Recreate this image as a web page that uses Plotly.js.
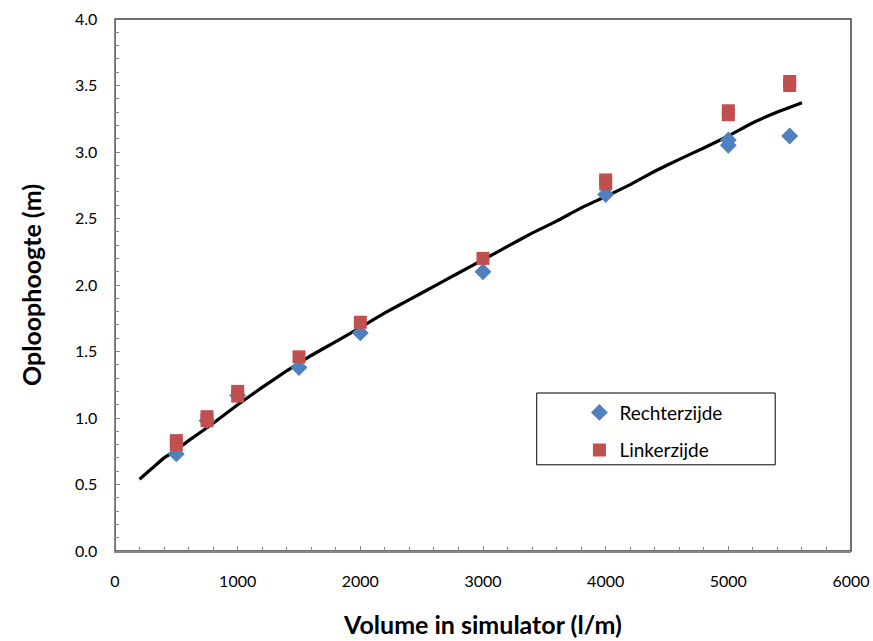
<!DOCTYPE html>
<html>
<head>
<meta charset="utf-8">
<script src="https://cdn.plot.ly/plotly-3.0.1.min.js"></script>
<style>html,body{margin:0;padding:0;background:#fff;}#chart{width:873px;height:641px;}</style>
</head>
<body>
<div id="chart"></div>
<script>
// Rechterzijde (right side) measurements
const rechtsX = [500, 750, 1000, 1500, 2000, 3000, 4000, 5000, 5000, 5500];
const rechtsY = [0.73, 0.98, 1.17, 1.38, 1.64, 2.10, 2.68, 3.09, 3.05, 3.12];
// Linkerzijde (left side) measurements
const linksX = [500, 500, 750, 750, 1000, 1000, 1500, 2000, 3000, 4000, 4000, 5000, 5000, 5500, 5500];
const linksY = [0.83, 0.80, 1.01, 0.98, 1.20, 1.165, 1.46, 1.72, 2.20, 2.79, 2.76, 3.31, 3.28, 3.53, 3.50];
// Fitted curve
const curveX = [200, 300, 400, 500, 600, 800, 1000, 1200, 1400, 1600, 1800, 2000, 2200, 2400, 2600, 2800, 3000, 3200, 3400, 3600, 3800, 4000, 4200, 4400, 4600, 4800, 5000, 5200, 5400, 5600];
const curveY = [0.54, 0.62, 0.70, 0.76, 0.83, 0.96, 1.10, 1.23, 1.355, 1.47, 1.575, 1.68, 1.79, 1.89, 1.99, 2.09, 2.19, 2.29, 2.39, 2.48, 2.58, 2.665, 2.755, 2.855, 2.945, 3.03, 3.12, 3.22, 3.30, 3.37];

const traces = [
  {x: curveX, y: curveY, type: 'scatter', mode: 'lines', line: {color: '#000000', width: 3.2, shape: 'spline', smoothing: 0.3}, showlegend: false, hoverinfo: 'skip'},
  {x: rechtsX, y: rechtsY, type: 'scatter', mode: 'markers', name: 'Rechterzijde', legendgroup: 'a',
   marker: {symbol: 'diamond', size: 13, color: '#4F81BD'}},
  {x: linksX, y: linksY, type: 'scatter', mode: 'markers', name: 'Linkerzijde', legendgroup: 'b',
   marker: {symbol: 'square', size: 13, color: '#C0504D'}}
];

const font = 'Lato, "Open Sans", "Liberation Sans", sans-serif';
const layout = {
  width: 873, height: 641,
  margin: {l: 115, r: 22, t: 19, b: 90},
  paper_bgcolor: '#ffffff', plot_bgcolor: '#ffffff',
  font: {family: font, color: '#000000'},
  xaxis: {
    range: [0, 6000], dtick: 1000, tick0: 0, tickformat: 'd',
    showgrid: false, zeroline: false,
    showline: true, linecolor: '#868686', linewidth: 1.5,
    ticks: 'inside', ticklen: 5, tickcolor: '#868686', tickwidth: 1,
    minor: {dtick: 200, ticks: 'inside', ticklen: 4, tickcolor: '#868686', showgrid: false},
    tickfont: {size: 16, family: font},
    ticklabelstandoff: 15,
    title: {text: 'Volume in simulator (l/m)', font: {size: 25, family: font, weight: 'bold'}, standoff: 28}
  },
  yaxis: {
    range: [0, 4], dtick: 0.5, tick0: 0, tickformat: '.1f',
    showgrid: false, zeroline: false,
    showline: true, linecolor: '#868686', linewidth: 1.5,
    ticks: 'inside', ticklen: 5, tickcolor: '#868686', tickwidth: 1,
    minor: {dtick: 0.1, ticks: 'inside', ticklen: 4, tickcolor: '#868686', showgrid: false},
    tickfont: {size: 16, family: font},
    ticklabelstandoff: 13,
    title: {text: 'Oploophoogte (m)', font: {size: 25, family: font, weight: 'bold'}, standoff: 26}
  },
  shapes: [
    {type: 'rect', xref: 'paper', yref: 'paper', x0: 0, x1: 1, y0: 0, y1: 1, line: {color: '#404040', width: 1.5}, layer: 'below'},
    {type: 'rect', xref: 'paper', yref: 'paper', x0: 0.573, x1: 0.897, y0: 0.162, y1: 0.297, line: {color: '#000000', width: 1}, fillcolor: 'rgba(0,0,0,0)'}
  ],
  legend: {
    x: 0.631, y: 0.296, xanchor: 'left', yanchor: 'top',
    bgcolor: 'rgba(255,255,255,0)', borderwidth: 0,
    font: {size: 19, family: font},
    traceorder: 'grouped', tracegroupgap: 10
  },
  showlegend: true
};

Plotly.newPlot('chart', traces, layout, {displayModeBar: false, staticPlot: true});
</script>
</body>
</html>
